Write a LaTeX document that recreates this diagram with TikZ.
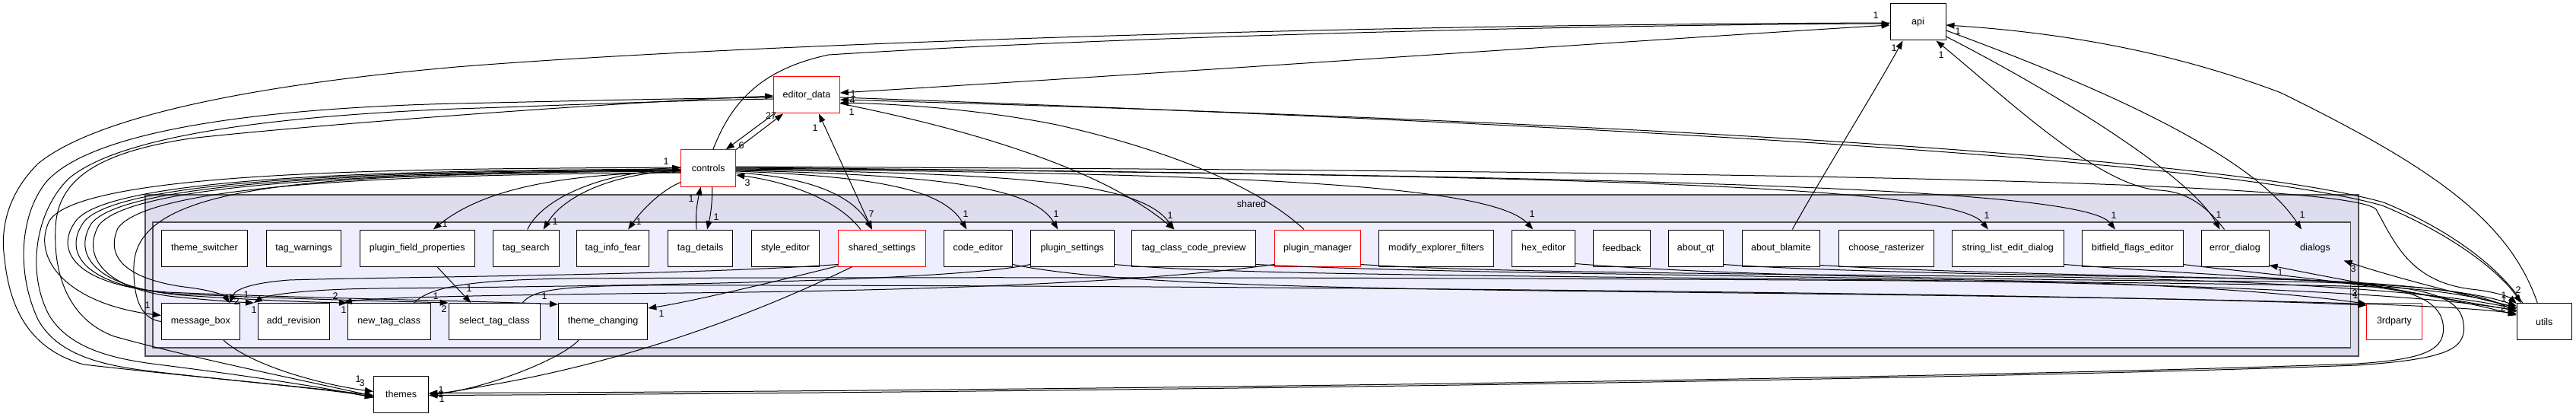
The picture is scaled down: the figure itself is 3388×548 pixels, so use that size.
\documentclass[tikz,border=0pt]{standalone}
\usepackage{fontspec}
\setmainfont{Liberation Sans}
\usetikzlibrary{arrows.meta}
\definecolor{clusterA}{HTML}{DDDDEE}
\definecolor{clusterB}{HTML}{EEEEFF}
\definecolor{cborder}{HTML}{505050}
\newcommand{\dgf}{\fontsize{12.5}{15}\selectfont}
\tikzset{
  >={Triangle[length=11pt,width=8pt]},
  dirbox/.style={draw=black, fill=white, line width=1pt, minimum height=48pt, inner sep=0pt, font=\dgf},
  redbox/.style={dirbox, draw=red},
  outerclu/.style={draw=cborder, fill=clusterA, line width=2pt, inner sep=0pt},
  innerclu/.style={draw=cborder, fill=clusterB, line width=1.5pt, inner sep=0pt},
  edge/.style={line width=1pt, ->},
  edgeboth/.style={line width=1pt, <->},
  lbl/.style={font=\dgf, inner sep=0pt},
}
\begin{document}
\begin{tikzpicture}[x=1pt,y=-1pt]
\useasboundingbox[fill=white] (0,0) rectangle (3388,548);
% clusters
\node[outerclu, minimum width=2911.7pt, minimum height=211.7pt] (shared) at (1646.45,361.85) {};
\node[innerclu, minimum width=2890.7pt, minimum height=165pt] (dialogsclu) at (1646.35,374.3) {};
\node[lbl] (sharedlbl) at (1646,268) {shared};
% row 1
\node[dirbox, minimum width=113.3pt] (ts) at (269,326) {theme\_switcher};
\node[dirbox, minimum width=98.7pt] (tw) at (399.6,326) {tag\_warnings};
\node[dirbox, minimum width=150.7pt] (pfp) at (548.8,326) {plugin\_field\_properties};
\node[dirbox, minimum width=86.9pt] (tsr) at (691.7,326) {tag\_search};
\node[dirbox, minimum width=94.5pt] (tif) at (806.1,326) {tag\_info\_fear};
\node[dirbox, minimum width=85pt] (tdt) at (921.1,326) {tag\_details};
\node[dirbox, minimum width=89.2pt] (se) at (1033,326) {style\_editor};
\node[redbox, minimum width=114.7pt] (ss) at (1159.9,326) {shared\_settings};
\node[dirbox, minimum width=90pt] (ce) at (1286.3,326) {code\_editor};
\node[dirbox, minimum width=109.8pt] (ps) at (1410.3,326) {plugin\_settings};
\node[dirbox, minimum width=162.7pt] (tccp) at (1570.3,326) {tag\_class\_code\_preview};
\node[redbox, minimum width=112.9pt] (pm) at (1733,326) {plugin\_manager};
\node[dirbox, minimum width=151.2pt] (mef) at (1889,326) {modify\_explorer\_filters};
\node[dirbox, minimum width=83pt] (he) at (2030.2,326) {hex\_editor};
\node[dirbox, minimum width=75.1pt] (fb) at (2133,326) {feedback};
\node[dirbox, minimum width=71.9pt] (aq) at (2230.2,326) {about\_qt};
\node[dirbox, minimum width=102.6pt] (ab) at (2342.3,326) {about\_blamite};
\node[dirbox, minimum width=125.4pt] (cr) at (2481,326) {choose\_rasterizer};
\node[dirbox, minimum width=147pt] (sled) at (2640.8,326) {string\_list\_edit\_dialog};
\node[dirbox, minimum width=132.3pt] (bfe) at (2804.9,326) {bitfield\_flags\_editor};
\node[dirbox, minimum width=89pt] (errd) at (2939.5,326) {error\_dialog};
\node[dirbox, draw=none, fill=none, minimum width=74pt] (dlg) at (3045,326) {dialogs};
% row 2
\node[dirbox, minimum width=102.9pt] (mb) at (263.9,422.5) {message\_box};
\node[dirbox, minimum width=93.8pt] (ar) at (386.3,422.5) {add\_revision};
\node[dirbox, minimum width=108.7pt] (ntc) at (511.7,422.5) {new\_tag\_class};
\node[dirbox, minimum width=120.5pt] (stc) at (650.4,422.5) {select\_tag\_class};
\node[dirbox, minimum width=117.4pt] (tch) at (793.1,422.5) {theme\_changing};
% outside
\node[redbox, minimum width=86.6pt] (edata) at (1061,125) {editor\_data};
\node[redbox, minimum width=72pt] (ctl) at (931.7,221) {controls};
\node[dirbox, minimum width=73pt] (api) at (2522.5,29) {api};
\node[redbox, minimum width=72.3pt] (trd) at (3148.9,422.7) {3rdparty};
\node[dirbox, minimum width=72pt] (utl) at (3346.3,422.7) {utils};
\node[dirbox, minimum width=72.3pt] (thm) at (527.6,518.5) {themes};

% ---- edges around controls / editor_data
\draw[edge] (ctl.north east) -- ([xshift=-31pt]edata.south);
\draw[edge] ([xshift=-43pt]edata.south) -- ([xshift=23pt]ctl.north);
\draw[edgeboth] ([xshift=16pt]edata.south) -- ([xshift=-13pt]ss.north);
\draw[edge] ([xshift=6pt]ctl.north) .. controls (960,140) and (995,92) .. (1090,72) .. controls (1500,46) and (2150,32) .. ([yshift=-2pt]api.west);
\draw[edgeboth] ([yshift=3pt]edata.east) .. controls (1600,92) and (2200,50) .. ([yshift=-4pt]api.west);
\draw[edge] ([yshift=-3pt]edata.east) .. controls (2000,160) and (2900,205) .. (3133,270) .. controls (3230,310) and (3290,360) .. ([xshift=6pt]utl.north west);
\draw[edge] ([xshift=8pt]utl.north west) .. controls (3292,358) and (3232,306) .. (3135,266) .. controls (2900,200) and (2000,156) .. ([yshift=-6pt]edata.east);
\draw[edge] ([xshift=-18pt]pm.north) .. controls (1660,250) and (1550,200) .. (1390,164) .. controls (1300,146) and (1200,137) .. ([yshift=-10pt]edata.east);
\draw[edge] ([yshift=-11pt]edata.east) .. controls (1250,165) and (1440,215) .. ([xshift=-26pt]tccp.north);

% ---- left loops
\draw[edge] ([yshift=-1pt]api.west) .. controls (1800,32) and (1000,56) .. (600,88) .. controls (350,110) and (130,150) .. (50,215) .. controls (10,255) and (0,300) .. (6,340) .. controls (14,420) and (50,462) .. (110,479) .. controls (250,495) and (400,508) .. ([yshift=-1pt]thm.west);
\draw[edge] ([yshift=-3pt]edata.west) .. controls (850,130) and (700,134) .. (600,136) .. controls (350,142) and (120,170) .. (60,240) .. controls (25,285) and (22,360) .. (50,420) .. controls (75,465) and (130,480) .. (200,488) .. controls (300,500) and (420,510) .. ([yshift=-3pt]thm.west);
\draw[edge] ([yshift=-5pt]edata.west) .. controls (850,133) and (700,140) .. (600,143) .. controls (380,152) and (160,175) .. (90,235) .. controls (45,280) and (35,360) .. (65,415) .. controls (90,455) and (140,470) .. (200,478) .. controls (320,493) and (420,508) .. ([yshift=-4pt]thm.west);
\draw[edge] ([yshift=-2pt]thm.west) .. controls (400,500) and (250,470) .. (150,442) .. controls (90,420) and (70,360) .. (73,300) .. controls (75,235) and (130,200) .. (250,182) .. controls (400,165) and (800,135) .. ([yshift=-1pt]edata.west);

% ---- controls bundle loops
\draw[edge] ([yshift=-1pt]ctl.west) .. controls (600,224) and (150,226) .. (100,290) .. controls (70,330) and (100,375) .. (220,384) .. controls (400,392) and (650,396) .. ([yshift=-2pt]tch.north west);
\draw[edge] ([yshift=-2pt]ctl.west) .. controls (600,225) and (160,228) .. (110,292) .. controls (82,332) and (110,376) .. (230,386) .. controls (380,393) and (520,396) .. (stc.north west);
\draw[edge] ([yshift=-3pt]ctl.west) .. controls (600,226) and (170,230) .. (120,294) .. controls (95,335) and (125,378) .. (240,388) .. controls (330,394) and (400,397) .. (ntc.north west);
\draw[edge] ([yshift=-4pt]ctl.west) .. controls (600,227) and (180,232) .. (130,296) .. controls (106,338) and (140,380) .. (230,390) .. controls (270,394) and (310,397) .. ([xshift=-5pt]ar.north west);
\draw[edge] ([yshift=-6pt]ctl.west) .. controls (600,229) and (200,236) .. (155,300) .. controls (135,345) and (180,370) .. (250,378) .. controls (280,382) and (295,388) .. ([xshift=38pt]mb.north);
\draw[edge] (mb.west) .. controls (190,420) and (175,400) .. (176,350) .. controls (178,270) and (300,238) .. (600,230) .. controls (750,226) and (850,223) .. ([yshift=1pt]ctl.west);
\draw[edge] ([yshift=1pt]ctl.west) .. controls (600,222) and (110,220) .. (65,290) .. controls (40,340) and (90,400) .. ([yshift=8pt]mb.west);

% ---- controls to row 1
\draw[edge] ([yshift=-5pt]ctl.west) .. controls (750,228) and (640,245) .. ([xshift=21pt]pfp.north);
\draw[edge] ([yshift=-3pt]ctl.west) .. controls (800,228) and (740,260) .. ([xshift=23pt]tsr.north);
\draw[edge] ([xshift=2pt]tsr.north) .. controls (712,262) and (790,226) .. ([yshift=-2pt]ctl.west);
\draw[edge] ([yshift=6pt]ctl.south west) .. controls (870,250) and (845,275) .. ([xshift=20pt]tif.north);
\draw[edge] ([xshift=-5pt]tdt.north) .. controls (914,280) and (918,262) .. ([xshift=-10pt]ctl.south);
\draw[edge] ([xshift=5pt]ctl.south) .. controls (937,268) and (934,285) .. ([xshift=9pt]tdt.north);
\draw[edge] ([xshift=-28pt]ss.north) .. controls (1100,260) and (1030,238) .. ([yshift=-9pt]ctl.east);
\draw[edge] ([yshift=-6pt]ctl.east) .. controls (1060,232) and (1120,255) .. ([xshift=-13pt]ss.north);
\draw[edge] ([yshift=-4pt]ctl.east) .. controls (1150,232) and (1240,248) .. ([xshift=-15pt]ce.north);
\draw[edge] ([yshift=-3pt]ctl.east) .. controls (1250,230) and (1360,248) .. ([xshift=-19pt]ps.north);
\draw[edge] ([yshift=-2pt]ctl.east) .. controls (1350,228) and (1500,240) .. ([xshift=-26pt]tccp.north);
\draw[edge] ([yshift=-1pt]ctl.east) .. controls (1600,228) and (1960,240) .. ([xshift=-14pt]he.north);
\draw[edge] (ctl.east) .. controls (2100,230) and (2570,245) .. ([xshift=-26pt]sled.north);
\draw[edge] ([yshift=1pt]ctl.east) .. controls (2200,232) and (2740,248) .. ([xshift=-23pt]bfe.north);
\draw[edge] ([yshift=2pt]ctl.east) .. controls (2000,224) and (3080,232) .. (3125,275) .. controls (3150,320) and (3170,370) .. (3250,380) .. controls (3280,383) and (3300,390) .. ([yshift=-1pt]utl.north west);

% ---- api
\draw[edge] ([xshift=-9pt]utl.north) .. controls (3300,290) and (3200,220) .. (3000,122) .. controls (2850,65) and (2700,42) .. ([yshift=-4pt]api.east);
\draw[edge] ([yshift=-11pt]api.east) .. controls (2750,110) and (2960,200) .. ([xshift=-18pt]dlg.north);
\draw[edge] ([yshift=-19pt]api.east) .. controls (2700,120) and (2880,230) .. ([xshift=-20pt]errd.north);
\draw[edge] ([xshift=-14pt]errd.north) .. controls (2905,275) and (2880,252) .. (2840,250) .. controls (2760,245) and (2640,130) .. ([xshift=24pt]api.south);
\draw[edge] ([xshift=15pt]ab.north) .. controls (2400,225) and (2460,130) .. ([xshift=-20pt]api.south);

% ---- right side, row 1 to utils / 3rdparty / themes
\draw[edge] ([yshift=3pt]aq.south east) .. controls (2400,357) and (2700,362) .. (2950,366) .. controls (3120,369) and (3205,378) .. (3213,425) .. controls (3218,460) and (3190,472) .. (3100,478) .. controls (2500,500) and (1200,515) .. ([yshift=2pt]thm.east);
\draw[edge] ([yshift=4pt]he.south east) .. controls (2300,365) and (2700,368) .. (3000,370) .. controls (3180,372) and (3235,385) .. (3240,425) .. controls (3245,460) and (3215,472) .. (3100,480) .. controls (2500,502) and (1200,517) .. ([yshift=-1pt]thm.east);
\draw[edge] ([yshift=3pt]ce.south east) .. controls (1450,372) and (1700,379) .. (2200,384) .. controls (2900,392) and (3200,398) .. ([yshift=-14pt]utl.north west);
\draw[edge] ([yshift=3pt]ps.south east) .. controls (1600,360) and (1900,362) .. (2500,368) .. controls (3000,375) and (3220,392) .. ([yshift=-10pt]utl.north west);
\draw[edge] ([yshift=3pt]tccp.south east) .. controls (1850,358) and (2200,360) .. (2700,370) .. controls (2950,378) and (3060,392) .. ([yshift=-1pt]trd.north west);
\draw[edge] ([yshift=3pt]pm.south east) .. controls (1950,358) and (2300,360) .. (2700,364) .. controls (3050,370) and (3230,388) .. ([yshift=-8pt]utl.north west);
\draw[edge] ([yshift=2pt]ab.south east) .. controls (2550,358) and (2800,362) .. (3000,367) .. controls (3150,371) and (3260,384) .. ([yshift=-4pt]utl.north west);
\draw[edge] ([yshift=3pt]sled.south east) .. controls (2850,358) and (3050,368) .. (3170,377) .. controls (3240,382) and (3280,394) .. ([yshift=-12pt]utl.north west);
\draw[edge] ([yshift=3pt]bfe.south east) .. controls (2950,358) and (3150,372) .. ([yshift=-16pt]utl.north west);
\draw[edge] ([xshift=-22pt]ntc.north east) .. controls (565,378) and (610,368) .. (750,366) .. controls (1500,362) and (2900,368) .. (3150,378) .. controls (3240,384) and (3285,398) .. ([yshift=-6pt]utl.north west);
\draw[edge] ([xshift=-24pt]stc.north east) .. controls (700,382) and (730,376) .. (850,375) .. controls (1500,374) and (2800,386) .. ([yshift=-3pt]trd.north west);
\draw[edge] ([yshift=-6pt]utl.north west) .. controls (3250,390) and (3150,365) .. ([yshift=8pt]dlg.south east);
\draw[edge] ([yshift=-10pt]utl.north west) .. controls (3200,390) and (3050,362) .. ([yshift=2pt]errd.south east);

% ---- inside cluster, to row 2 and themes
\draw[edge] ([yshift=3pt]ss.south west) .. controls (900,362) and (500,364) .. (380,368) .. controls (330,372) and (310,380) .. ([xshift=38pt]mb.north);
\draw[edge] ([yshift=3pt]ps.south west) .. controls (1250,370) and (800,376) .. (500,379) .. controls (400,380) and (350,388) .. ([xshift=-5pt]ar.north west);
\draw[edge] ([yshift=3pt]pm.south west) .. controls (1500,372) and (1200,382) .. (900,385) .. controls (600,388) and (480,392) .. ([xshift=-5pt]ntc.north west);
\draw[edge] ([xshift=26pt]pfp.south) -- ([xshift=-31pt]stc.north);
\draw[edge] ([yshift=1pt]ss.south west) .. controls (1000,375) and (900,398) .. ([yshift=-7pt]tch.north east);
\draw[edge] ([xshift=-39pt]ss.south) .. controls (1020,400) and (850,470) .. (650,505) .. controls (610,512) and (590,516) .. ([yshift=1pt]thm.east);
\draw[edge] ([xshift=-32pt]tch.south) .. controls (740,470) and (650,508) .. ([yshift=-1pt]thm.east);
\draw[edge] ([xshift=30pt]mb.south) .. controls (330,480) and (420,505) .. ([yshift=4pt]thm.west);

% ---- edge labels
\node[lbl] (l1) at (876,212) {1};
\node[lbl] (l2) at (1014,152) {27};
\node[lbl] (l3) at (975,191) {6};
\node[lbl] (l4) at (1122,123) {1};
\node[lbl] (l5) at (1121,132) {4};
\node[lbl] (l6) at (1120,147) {1};
\node[lbl] (l7) at (1072,168) {1};
\node[lbl] (l8) at (983,240) {3};
\node[lbl] (l9) at (1146,281) {7};
\node[lbl] (l10) at (730,291) {1};
\node[lbl] (l11) at (840,291) {1};
\node[lbl] (l12) at (909,261) {1};
\node[lbl] (l13) at (942,285) {1};
\node[lbl] (l14) at (585,294) {1};
\node[lbl] (l15) at (1270,281) {1};
\node[lbl] (l16) at (1389,281) {1};
\node[lbl] (l17) at (1539,283) {1};
\node[lbl] (l18) at (2015,281) {1};
\node[lbl] (l19) at (2613,283) {1};
\node[lbl] (l20) at (2780,283) {1};
\node[lbl] (l21) at (2918,282) {1};
\node[lbl] (l22) at (3028,282) {1};
\node[lbl] (l23) at (2467,20) {1};
\node[lbl] (l24) at (2575,41) {1};
\node[lbl] (l25) at (2491,63) {1};
\node[lbl] (l26) at (2553,72) {1};
\node[lbl] (l27) at (3095,353) {3};
\node[lbl] (l28) at (2999,358) {1};
\node[lbl] (l29) at (3097,385) {2};
\node[lbl] (l30) at (3098,388) {1};
\node[lbl] (l31) at (3293,388) {1};
\node[lbl] (l32) at (3293,393) {1};
\node[lbl] (l33) at (3292,405) {2};
\node[lbl] (l34) at (3312,381) {2};
\node[lbl] (l35) at (194,401) {1};
\node[lbl] (l36) at (311,396) {2};
\node[lbl] (l37) at (324,387) {1};
\node[lbl] (l38) at (334,407) {1};
\node[lbl] (l39) at (441,389) {2};
\node[lbl] (l40) at (452,407) {1};
\node[lbl] (l41) at (573,389) {1};
\node[lbl] (l42) at (584,406) {2};
\node[lbl] (l43) at (617,379) {1};
\node[lbl] (l44) at (716,389) {1};
\node[lbl] (l45) at (870,412) {1};
\node[lbl] (l46) at (471,498) {1};
\node[lbl] (l47) at (476,503) {3};
\node[lbl] (l48) at (580,512) {1};
\node[lbl] (l49) at (580,518) {2};
\node[lbl] (l50) at (581,524) {1};
\end{tikzpicture}
\end{document}
